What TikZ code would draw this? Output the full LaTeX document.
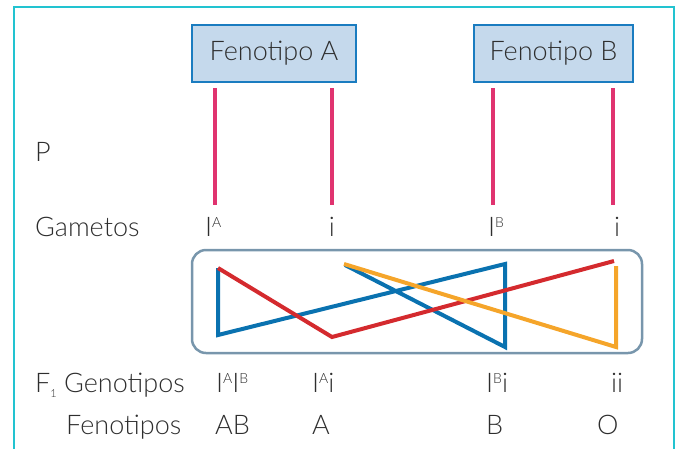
\documentclass[tikz,border=0pt]{standalone}
\usepackage{fontspec}
\setmainfont{Lato}[UprightFont={* Light}]
\definecolor{txt}{HTML}{2E2E2E}
\definecolor{frame}{HTML}{22C3D0}
\definecolor{boxfill}{HTML}{C5D9EC}
\definecolor{boxline}{HTML}{1A7CC0}
\definecolor{pinkl}{HTML}{E0336F}
\definecolor{redl}{HTML}{D42A2E}
\definecolor{bluel}{HTML}{0A72B0}
\definecolor{orangel}{HTML}{F5A52A}
\definecolor{grayl}{HTML}{7896AC}
\newcommand\sps[1]{\raisebox{9pt}{\fontsize{14}{14}\selectfont #1}}
\begin{document}
\begin{tikzpicture}[x=1pt,y=-1pt,
  lbl/.style={font=\fontsize{27}{30}\selectfont, text=txt, inner sep=0pt},
  phen/.style={lbl, draw=boxline, fill=boxfill, line width=1.3pt, minimum width=164pt, minimum height=57pt},
  pline/.style={draw=pinkl, line width=4pt},
  cross/.style={line width=4pt, line join=miter}]
\useasboundingbox (0,0) rectangle (678,448);
\draw[frame, line width=1.5pt] (14,7) rectangle (674,470);
\node[phen] (fa) at (274,53.5) {Fenotipo A};
\node[phen, minimum width=159pt] (fb) at (553.5,53.5) {Fenotipo B};
% parental lines
\foreach \n/\x in {a/215,b/332,c/493,d/613}{
  \coordinate (t\n) at (\x,88);
  \coordinate (b\n) at (\x,205);
  \draw[pline] (t\n) -- (b\n);
}
\node[lbl, anchor=base west] (p) at (35,161) {P};
\node[lbl, anchor=base west] (gam) at (35,236) {Gametos};
\node[lbl, anchor=base west] (g1) at (205,236) {I\sps{A}};
\node[lbl, anchor=base] (g2) at (332,236) {i};
\node[lbl, anchor=base west] (g3) at (488,236) {I\sps{B}};
\node[lbl, anchor=base] (g4) at (617,236) {i};
% box
\draw[grayl, line width=2.5pt, rounded corners=14pt] (192,250) rectangle (642,353);
% cross lines
\coordinate (b1) at (218,268);
\coordinate (b2) at (218,335);
\coordinate (b3) at (505,264);
\coordinate (b4) at (505,347);
\coordinate (b5) at (345,265);
\coordinate (r1) at (218,268);
\coordinate (r2) at (332,337);
\coordinate (r3) at (614,261);
\coordinate (o1) at (344,264);
\coordinate (o2) at (616,347);
\coordinate (o3) at (616,266);
\draw[cross, bluel] (b5) -- (b4) -- (b3) -- (b2) -- (b1);
\draw[cross, redl] (r1) -- (r2) -- (r3);
\draw[cross, orangel] (o1) -- (o2) -- (o3);
% F1
\node[lbl, anchor=base west] (f1) at (35,392) {F\raisebox{-5pt}{\fontsize{11}{12}\selectfont 1}};
\node[lbl, anchor=base west] (gen) at (64,392) {Genotipos};
\node[lbl, anchor=base west] (fen) at (66,434) {Fenotipos};
\node[lbl, anchor=base west] (x1) at (216,392) {I\sps{A}I\sps{B}};
\node[lbl, anchor=base west] (x2) at (312,392) {I\sps{A}i};
\node[lbl, anchor=base west] (x3) at (486,392) {I\sps{B}i};
\node[lbl, anchor=base west] (x4) at (611,392) {ii};
\node[lbl, anchor=base west] (y1) at (215,434) {AB};
\node[lbl, anchor=base west] (y2) at (312,434) {A};
\node[lbl, anchor=base west] (y3) at (486,434) {B};
\node[lbl, anchor=base west] (y4) at (597,434) {O};
\end{tikzpicture}
\end{document}
